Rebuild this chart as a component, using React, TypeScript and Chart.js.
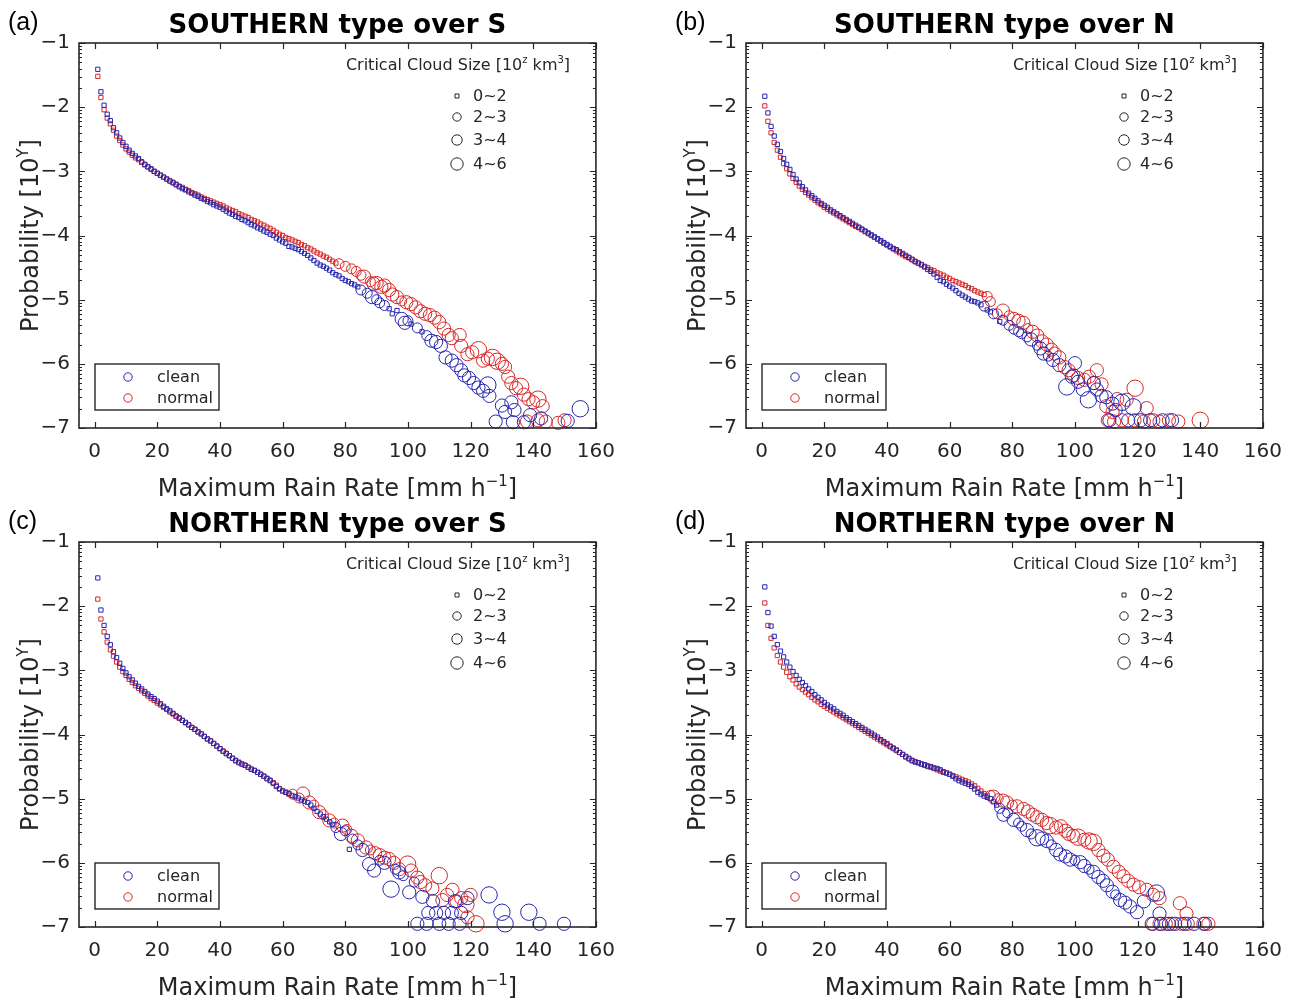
import React, { useEffect, useRef } from 'react';
import { Chart, registerables } from 'chart.js';
Chart.register(...registerables);

// ---------------- axes / labels ----------------
const xTickValues = [0, 20, 40, 60, 80, 100, 120, 140, 160];
const yTickValues = [-7, -6, -5, -4, -3, -2, -1];
const sizeClassLabels = ['0~2', '2~3', '3~4', '4~6'];
const panelLetters = ['(a)', '(b)', '(c)', '(d)'];
const panelTitles = ['SOUTHERN type over S', 'SOUTHERN type over N', 'NORTHERN type over S', 'NORTHERN type over N'];
const seriesNames = ['clean', 'normal'];

// ---------------- data ----------------
// "Sq" arrays: log10 probability at rain rate x = 1, 2, 3, ... (size class 0~2, squares)
// "Tail" arrays: [rain rate, log10 probability, size class 1..4]
const aCleanSq = [-1.41, -1.76, -1.97, -2.11, -2.21, -2.32, -2.40, -2.48, -2.55, -2.61, -2.67, -2.72, -2.76, -2.80, -2.85, -2.89, -2.93, -2.96, -3.00, -3.03, -3.06, -3.09, -3.12, -3.15, -3.18, -3.21, -3.24, -3.27, -3.29, -3.32, -3.34, -3.37, -3.39, -3.42, -3.44, -3.47, -3.49, -3.52, -3.54, -3.56, -3.59, -3.62, -3.65, -3.67, -3.70, -3.72, -3.75, -3.77, -3.80, -3.83, -3.85, -3.88, -3.90, -3.93, -3.95, -3.98, -4.00, -4.04, -4.07, -4.10, -4.12, -4.17, -4.18, -4.20, -4.22, -4.25, -4.28, -4.31, -4.35, -4.39, -4.43, -4.46, -4.48, -4.51, -4.54, -4.58, -4.61, -4.63, -4.67, -4.70, -4.72, -4.75, -4.77, -4.80];
const aCleanTail = [[85, -4.85, 2], [87, -4.9, 2], [88.5, -4.96, 3], [90, -5.0, 2], [91, -5.05, 2], [92.5, -5.09, 2], [94, -5.14, 1], [95, -5.22, 1], [96.5, -5.17, 1], [98, -5.3, 3], [99, -5.36, 3], [100, -5.33, 2], [101, -5.38, 1], [103, -5.44, 2], [104.5, -5.5, 1], [106, -5.56, 2], [107.5, -5.64, 3], [109, -5.66, 3], [110.5, -5.72, 3], [112, -5.9, 3], [114, -5.95, 3], [115.5, -6.02, 3], [117, -6.1, 3], [118, -6.18, 3], [119.5, -6.22, 3], [121, -6.3, 3], [122.5, -6.37, 3], [124, -6.42, 3], [125.5, -6.33, 4], [126, -6.5, 3], [128, -6.9, 3], [130, -6.65, 3], [131, -6.75, 3], [133, -6.6, 3], [134, -6.72, 3], [133.5, -6.91, 3], [137, -6.91, 3], [139, -6.8, 3], [142.5, -6.85, 3], [151, -6.89, 3], [155, -6.7, 4]];
const aNormalSq = [-1.52, -1.85, -2.04, -2.17, -2.26, -2.36, -2.45, -2.52, -2.59, -2.65, -2.70, -2.75, -2.79, -2.82, -2.86, -2.90, -2.93, -2.97, -3.00, -3.03, -3.06, -3.09, -3.12, -3.15, -3.17, -3.20, -3.23, -3.25, -3.28, -3.30, -3.33, -3.35, -3.37, -3.40, -3.42, -3.44, -3.46, -3.48, -3.50, -3.52, -3.54, -3.57, -3.59, -3.61, -3.63, -3.66, -3.68, -3.70, -3.72, -3.75, -3.77, -3.79, -3.82, -3.84, -3.87, -3.89, -3.92, -3.95, -3.98, -4.00, -4.03, -4.05, -4.07, -4.09, -4.11, -4.14, -4.16, -4.19, -4.21, -4.24, -4.27, -4.29, -4.32, -4.34, -4.37, -4.40, -4.43];
const aNormalTail = [[78, -4.44, 2], [80, -4.48, 2], [82, -4.52, 2], [83.5, -4.56, 2], [85, -4.62, 2], [86, -4.64, 3], [88, -4.72, 2], [89, -4.75, 3], [90, -4.74, 3], [91.5, -4.8, 3], [92.5, -4.78, 3], [94, -4.85, 3], [95, -4.92, 3], [96.5, -4.96, 3], [98, -5.02, 2], [99.5, -5.04, 3], [101, -5.07, 3], [102.5, -5.12, 3], [104, -5.18, 3], [105.5, -5.22, 3], [107, -5.24, 3], [108.5, -5.28, 3], [110, -5.35, 3], [111.5, -5.45, 3], [113, -5.55, 3], [114, -5.6, 3], [116.5, -5.55, 3], [117, -5.72, 3], [119, -5.85, 3], [120.5, -5.82, 3], [122.5, -5.78, 4], [124, -5.95, 3], [125.5, -5.92, 3], [127, -5.9, 4], [128.5, -5.96, 4], [130, -6.0, 3], [131, -6.05, 3], [132, -6.2, 3], [133, -6.3, 3], [134.5, -6.38, 3], [136, -6.35, 4], [137, -6.48, 3], [138.5, -6.55, 3], [140, -6.6, 3], [141.5, -6.55, 4], [143, -6.66, 3], [138, -6.9, 3], [141.5, -6.88, 3], [144, -6.9, 3], [148, -6.92, 3], [150, -6.88, 3]];

const bCleanSq = [-1.83, -2.09, -2.30, -2.45, -2.58, -2.69, -2.80, -2.89, -2.97, -3.05, -3.12, -3.18, -3.24, -3.29, -3.34, -3.38, -3.42, -3.46, -3.50, -3.53, -3.56, -3.60, -3.63, -3.66, -3.69, -3.72, -3.75, -3.78, -3.81, -3.84, -3.87, -3.90, -3.93, -3.96, -3.99, -4.02, -4.05, -4.08, -4.11, -4.14, -4.17, -4.20, -4.22, -4.25, -4.28, -4.31, -4.34, -4.37, -4.41, -4.43, -4.46, -4.49, -4.53, -4.56, -4.60, -4.65, -4.70, -4.72, -4.76, -4.79, -4.82, -4.86, -4.90, -4.93, -4.96, -4.99, -5.02, -5.03, -5.05, -5.08];
const bCleanTail = [[71, -5.1, 2], [72, -5.16, 1], [73, -5.19, 1], [74, -5.22, 2], [76, -5.34, 1], [77, -5.32, 2], [79, -5.4, 2], [80.5, -5.46, 2], [82, -5.5, 2], [83, -5.53, 2], [84.7, -5.58, 2], [86, -5.62, 3], [88, -5.71, 2], [89, -5.76, 3], [90, -5.84, 3], [91.5, -5.88, 2], [93, -5.94, 3], [95, -6.02, 3], [97.4, -6.36, 4], [99, -6.2, 3], [100, -5.99, 3], [101, -6.28, 3], [102.5, -6.4, 3], [104.3, -6.56, 4], [106, -6.3, 3], [107, -6.4, 3], [108.5, -6.5, 3], [110, -6.52, 3], [112, -6.62, 3], [113, -6.72, 3], [115, -6.6, 4], [118.6, -6.67, 4], [111, -6.88, 3], [117, -6.88, 3], [121, -6.88, 3], [124, -6.88, 3], [128, -6.88, 3], [131, -6.88, 3]];
const bNormalSq = [-1.98, -2.22, -2.40, -2.55, -2.67, -2.78, -2.88, -2.96, -3.04, -3.11, -3.17, -3.23, -3.28, -3.33, -3.37, -3.41, -3.45, -3.49, -3.52, -3.56, -3.59, -3.62, -3.65, -3.68, -3.71, -3.74, -3.77, -3.80, -3.83, -3.86, -3.88, -3.91, -3.94, -3.97, -4.00, -4.03, -4.06, -4.09, -4.12, -4.15, -4.18, -4.21, -4.24, -4.27, -4.30, -4.33, -4.35, -4.38, -4.40, -4.43, -4.45, -4.48, -4.50, -4.53, -4.55, -4.58, -4.60, -4.62, -4.65, -4.67, -4.70, -4.72, -4.74, -4.76, -4.78, -4.81, -4.83, -4.86, -4.88, -4.90, -4.92];
const bNormalTail = [[72, -4.95, 2], [73, -5.03, 2], [75.2, -5.22, 2], [77, -5.17, 3], [79, -5.25, 2], [80.5, -5.3, 3], [82, -5.33, 3], [83.5, -5.36, 3], [85, -5.45, 2], [86.5, -5.5, 3], [88, -5.56, 3], [89.5, -5.65, 3], [91, -5.7, 3], [92.5, -5.78, 3], [93.5, -5.84, 3], [95, -5.9, 3], [96.7, -6.05, 3], [98, -6.1, 3], [99.5, -6.18, 3], [101, -6.22, 3], [103, -6.25, 3], [104.5, -6.2, 3], [106, -6.3, 3], [107, -6.1, 3], [108.5, -6.32, 3], [110, -6.66, 3], [112, -6.75, 3], [113.5, -6.55, 3], [116.5, -6.56, 3], [119.2, -6.38, 4], [122.9, -6.69, 3], [110.5, -6.88, 3], [112.5, -6.9, 3], [115, -6.88, 3], [119, -6.88, 3], [122, -6.9, 3], [125, -6.88, 3], [127, -6.9, 3], [130, -6.88, 3], [133, -6.9, 3], [140, -6.88, 4]];

const cCleanSq = [-1.56, -2.06, -2.30, -2.47, -2.60, -2.71, -2.80, -2.89, -2.97, -3.04, -3.10, -3.15, -3.20, -3.25, -3.29, -3.33, -3.37, -3.41, -3.44, -3.48, -3.52, -3.56, -3.60, -3.63, -3.67, -3.71, -3.74, -3.78, -3.81, -3.85, -3.89, -3.92, -3.96, -3.99, -4.03, -4.07, -4.10, -4.14, -4.18, -4.22, -4.26, -4.30, -4.33, -4.37, -4.41, -4.44, -4.46, -4.48, -4.51, -4.54, -4.56, -4.59, -4.62, -4.65, -4.69, -4.72, -4.76, -4.81, -4.85, -4.88, -4.90, -4.92, -4.95, -4.97, -4.99, -5.02, -5.04, -5.06, -5.10, -5.15, -5.20, -5.24, -5.28, -5.32, -5.36, -5.40];
const cCleanTail = [[77, -5.45, 2], [78.6, -5.55, 3], [80, -5.5, 2], [81.3, -5.79, 1], [82.3, -5.63, 2], [84, -5.72, 2], [85.5, -5.8, 3], [87.6, -6.02, 3], [89.2, -6.12, 3], [91, -5.96, 2], [92.5, -6.0, 3], [94.6, -6.41, 4], [96, -6.1, 2], [97.2, -6.15, 3], [98.5, -6.2, 2], [100.4, -6.46, 3], [102, -6.3, 2], [103, -6.95, 3], [104.6, -6.53, 3], [106, -6.95, 3], [106.5, -6.78, 3], [108, -6.6, 3], [109, -6.78, 3], [110, -6.95, 3], [111.5, -6.78, 3], [113, -6.95, 3], [114, -6.78, 3], [115, -6.6, 3], [116.5, -6.95, 3], [117, -6.78, 3], [119, -6.55, 3], [125.9, -6.5, 4], [130, -6.77, 4], [131, -6.95, 4], [138.6, -6.77, 4], [142, -6.95, 3], [149.8, -6.95, 3]];
const cNormalSq = [-1.89, -2.20, -2.40, -2.56, -2.68, -2.78, -2.87, -2.95, -3.02, -3.08, -3.14, -3.19, -3.24, -3.28, -3.32, -3.36, -3.40, -3.44, -3.47, -3.51, -3.54, -3.58, -3.61, -3.65, -3.68, -3.72, -3.75, -3.78, -3.82, -3.85, -3.89, -3.92, -3.96, -3.99, -4.03, -4.07, -4.10, -4.14, -4.18, -4.22, -4.26, -4.29, -4.33, -4.37, -4.40, -4.43, -4.46, -4.48, -4.51, -4.54, -4.56, -4.59, -4.62, -4.65, -4.68, -4.71, -4.75, -4.79, -4.84, -4.88, -4.90, -4.93];
const cNormalTail = [[63.2, -4.93, 2], [65.3, -4.99, 2], [66.5, -4.92, 3], [68.5, -5.06, 3], [70, -5.1, 2], [71.7, -5.21, 3], [73, -5.25, 2], [74.9, -5.34, 3], [76.5, -5.38, 2], [79.1, -5.42, 3], [80.5, -5.48, 2], [82, -5.58, 3], [84, -5.65, 3], [86.6, -5.76, 3], [88, -5.8, 2], [89.5, -5.85, 3], [91, -5.88, 3], [92.5, -5.92, 3], [94, -5.94, 3], [95.5, -6.0, 3], [97.2, -6.1, 3], [99.9, -6.02, 4], [101, -6.12, 3], [103, -6.23, 3], [104, -6.3, 3], [105.5, -6.35, 3], [107.8, -6.4, 3], [110, -6.2, 4], [111, -6.58, 3], [112.5, -6.5, 3], [114.2, -6.42, 3], [115.5, -6.6, 3], [117, -6.55, 3], [118.5, -6.65, 4], [120, -6.5, 3], [121.7, -6.95, 4], [119, -6.85, 3]];

const dCleanSq = [-1.70, -2.10, -2.31, -2.47, -2.60, -2.70, -2.79, -2.87, -2.95, -3.02, -3.08, -3.14, -3.19, -3.24, -3.29, -3.33, -3.38, -3.42, -3.46, -3.50, -3.54, -3.57, -3.60, -3.64, -3.67, -3.70, -3.74, -3.77, -3.80, -3.83, -3.86, -3.89, -3.92, -3.95, -3.98, -4.01, -4.04, -4.08, -4.11, -4.14, -4.18, -4.21, -4.24, -4.28, -4.31, -4.35, -4.38, -4.41, -4.43, -4.44, -4.46, -4.47, -4.49, -4.50, -4.52, -4.53, -4.55, -4.58, -4.60, -4.62, -4.65, -4.69, -4.72, -4.74, -4.76, -4.78, -4.81, -4.85, -4.90, -4.93, -4.96, -4.98, -5.00, -5.05, -5.10];
const dCleanTail = [[76, -5.15, 2], [77.2, -5.25, 3], [78.5, -5.22, 2], [80.4, -5.33, 3], [82, -5.38, 2], [83, -5.43, 2], [84.7, -5.49, 3], [86, -5.55, 2], [87.9, -5.61, 4], [89.5, -5.62, 3], [91, -5.66, 3], [92.5, -5.72, 2], [94, -5.8, 3], [95.3, -5.87, 3], [97, -5.9, 3], [98.5, -5.95, 3], [100, -5.96, 2], [101.7, -5.99, 3], [103, -6.05, 3], [104.5, -6.1, 2], [105.9, -6.14, 3], [107.5, -6.22, 3], [109, -6.28, 3], [110.2, -6.35, 3], [112, -6.45, 3], [113, -6.5, 2], [114.4, -6.58, 3], [116, -6.62, 3], [117.6, -6.68, 3], [119.8, -6.77, 3], [122, -6.6, 3], [126, -6.47, 4], [127, -6.79, 3], [124.5, -6.95, 3], [127.5, -6.95, 3], [130, -6.95, 3], [132, -6.95, 3], [135, -6.95, 3], [138, -6.95, 3], [141.5, -6.95, 3]];
const dNormalSq = [-1.95, -2.30, -2.50, -2.65, -2.77, -2.87, -2.95, -3.03, -3.10, -3.15, -3.21, -3.26, -3.30, -3.34, -3.38, -3.42, -3.46, -3.49, -3.53, -3.56, -3.59, -3.62, -3.65, -3.68, -3.71, -3.74, -3.77, -3.80, -3.83, -3.86, -3.89, -3.92, -3.95, -3.98, -4.01, -4.04, -4.07, -4.10, -4.13, -4.16, -4.19, -4.22, -4.25, -4.28, -4.31, -4.34, -4.37, -4.40, -4.42, -4.44, -4.46, -4.48, -4.50, -4.51, -4.53, -4.55, -4.57, -4.59, -4.60, -4.62, -4.64, -4.66, -4.68, -4.70, -4.72, -4.74, -4.77, -4.80, -4.84, -4.88, -4.92, -4.95];
const dNormalTail = [[73, -4.95, 2], [74, -4.97, 3], [75.5, -5.0, 2], [77, -5.03, 3], [78.3, -5.06, 3], [80, -5.1, 2], [81.5, -5.12, 3], [83.6, -5.16, 3], [85, -5.2, 3], [86.5, -5.25, 3], [87.9, -5.29, 3], [89.5, -5.33, 3], [91, -5.38, 3], [92.1, -5.42, 4], [94, -5.45, 3], [95.5, -5.43, 3], [97, -5.5, 3], [98, -5.55, 3], [99.5, -5.58, 3], [101, -5.6, 4], [103, -5.64, 3], [104.5, -5.66, 4], [105.9, -5.68, 4], [107.5, -5.8, 3], [109.1, -5.89, 3], [110.5, -5.95, 3], [112.3, -6.06, 3], [114, -6.14, 3], [115.5, -6.21, 3], [117, -6.28, 3], [118.7, -6.34, 3], [120.5, -6.38, 3], [122.9, -6.42, 3], [125, -6.5, 3], [127, -6.55, 3], [133.5, -6.63, 3], [135.6, -6.79, 3], [125, -6.95, 3], [127, -6.95, 3], [129, -6.95, 3], [131, -6.95, 3], [134, -6.95, 3], [136, -6.95, 3], [141, -6.95, 3], [142.6, -6.95, 3]];

const panelSeries = [
  [[aCleanSq, aCleanTail], [aNormalSq, aNormalTail]],
  [[bCleanSq, bCleanTail], [bNormalSq, bNormalTail]],
  [[cCleanSq, cCleanTail], [cNormalSq, cNormalTail]],
  [[dCleanSq, dCleanTail], [dNormalSq, dNormalTail]],
];

// ---------------- styles ----------------
const BLUE = 'rgb(38,38,175)';
const RED = 'rgb(215,40,40)';
const INK = '#262626';
const FONT = '"DejaVu Sans", sans-serif';
const markerRadius: Record<number, number> = { 1: 3, 2: 5, 3: 6.6, 4: 8.2 };
const legendRadius = [2, 4.2, 5.2, 6.2];
const panelPos = [
  { left: 0, top: 0 },
  { left: 667, top: 0 },
  { left: 0, top: 499 },
  { left: 667, top: 499 },
];
const CW = 627;
const CH = 500;

type Part = [string, boolean];

function drawRich(ctx: CanvasRenderingContext2D, parts: Part[], x: number, y: number, size: number, weight = 'normal', align: 'left' | 'center' = 'center') {
  const supSize = Math.round(size * 0.64);
  const widths = parts.map(([t, sup]) => {
    ctx.font = `${weight} ${sup ? supSize : size}px ${FONT}`;
    return ctx.measureText(t).width;
  });
  const total = widths.reduce((a, b) => a + b, 0);
  let cx = align === 'center' ? x - total / 2 : x;
  ctx.textAlign = 'left';
  ctx.textBaseline = 'alphabetic';
  parts.forEach(([t, sup], i) => {
    ctx.font = `${weight} ${sup ? supSize : size}px ${FONT}`;
    ctx.fillText(t, cx, sup ? y - size * 0.42 : y);
    cx += widths[i];
  });
}

const decorPlugin = {
  id: 'decor',
  afterDraw(chart: any, _args: any, opts: any) {
    const ctx: CanvasRenderingContext2D = chart.ctx;
    const ca = chart.chartArea;
    const xs = chart.scales.x;
    const ys = chart.scales.y;
    const p = opts.panel as number;
    ctx.save();
    // axis box
    ctx.strokeStyle = INK;
    ctx.lineWidth = 1.6;
    ctx.strokeRect(ca.left, ca.top, ca.right - ca.left, ca.bottom - ca.top);
    // major ticks
    ctx.lineWidth = 1.2;
    ctx.beginPath();
    xTickValues.forEach((v) => {
      const px = Math.round(xs.getPixelForValue(v)) + 0.5;
      ctx.moveTo(px, ca.bottom); ctx.lineTo(px, ca.bottom - 6);
      ctx.moveTo(px, ca.top); ctx.lineTo(px, ca.top + 6);
    });
    yTickValues.forEach((v) => {
      const py = Math.round(ys.getPixelForValue(v)) + 0.5;
      ctx.moveTo(ca.left, py); ctx.lineTo(ca.left + 6, py);
      ctx.moveTo(ca.right, py); ctx.lineTo(ca.right - 6, py);
    });
    ctx.stroke();
    // minor (log) ticks on y
    ctx.lineWidth = 1;
    ctx.beginPath();
    for (let n = 2; n <= 7; n++) {
      for (let m = 2; m <= 9; m++) {
        const v = -n + Math.log10(m);
        const py = Math.round(ys.getPixelForValue(v)) + 0.5;
        ctx.moveTo(ca.left, py); ctx.lineTo(ca.left + 3, py);
        ctx.moveTo(ca.right, py); ctx.lineTo(ca.right - 3, py);
      }
    }
    ctx.stroke();

    // panel letter
    ctx.fillStyle = '#000';
    ctx.font = `25px "Liberation Sans", Arial, sans-serif`;
    ctx.textAlign = 'left';
    ctx.textBaseline = 'alphabetic';
    ctx.fillText(panelLetters[p], 8, 30);
    // title
    const cx = (ca.left + ca.right) / 2;
    ctx.fillStyle = '#000';
    drawRich(ctx, [[panelTitles[p], false]], cx, 33, 26, 'bold');
    // x title
    ctx.fillStyle = INK;
    drawRich(ctx, [['Maximum Rain Rate [mm h', false], ['\u22121', true], [']', false]], cx, 496, 24);
    // y title
    ctx.save();
    ctx.translate(38, (ca.top + ca.bottom) / 2);
    ctx.rotate(-Math.PI / 2);
    drawRich(ctx, [['Probability [10', false], ['Y', true], [']', false]], 0, 0, 24);
    ctx.restore();

    // size legend
    ctx.fillStyle = INK;
    drawRich(ctx, [['Critical Cloud Size [10', false], ['z', true], [' km', false], ['3', true], [']', false]], ca.left + 379, 70, 16);
    const rowY = [96, 117, 140, 164];
    ctx.strokeStyle = INK;
    ctx.lineWidth = 1;
    sizeClassLabels.forEach((lab, i) => {
      const mx = ca.left + 378;
      const my = rowY[i];
      ctx.beginPath();
      if (i === 0) {
        ctx.rect(mx - 2, my - 2, 4, 4);
      } else {
        ctx.arc(mx, my, legendRadius[i], 0, Math.PI * 2);
      }
      ctx.stroke();
      ctx.font = `16px ${FONT}`;
      ctx.textAlign = 'left';
      ctx.textBaseline = 'middle';
      ctx.fillStyle = INK;
      ctx.fillText(lab, ca.left + 394, my + 1);
    });

    // series legend box
    const bx = ca.left + 16, by = 364, bw = 124, bh = 46;
    ctx.fillStyle = '#fff';
    ctx.fillRect(bx, by, bw, bh);
    ctx.strokeStyle = INK;
    ctx.lineWidth = 1.4;
    ctx.strokeRect(bx, by, bw, bh);
    [BLUE, RED].forEach((col, i) => {
      const my = by + 13 + i * 21;
      ctx.strokeStyle = col;
      ctx.lineWidth = 1;
      ctx.beginPath();
      ctx.arc(bx + 33, my, 4.2, 0, Math.PI * 2);
      ctx.stroke();
      ctx.fillStyle = INK;
      ctx.font = `16px ${FONT}`;
      ctx.textAlign = 'left';
      ctx.textBaseline = 'middle';
      ctx.fillText(seriesNames[i], bx + 62, my + 1);
    });
    ctx.restore();
  },
};

function buildPoints(sq: number[], tail: number[][]) {
  const pts = sq.map((y, i) => ({ x: i + 1, y, s: 1 }));
  tail.forEach(([x, y, s]) => pts.push({ x, y, s }));
  return pts;
}

function Panel({ index }: { index: number }) {
  const ref = useRef<HTMLCanvasElement | null>(null);
  useEffect(() => {
    if (!ref.current) return;
    const series = panelSeries[index];
    const chart = new Chart(ref.current, {
      type: 'scatter',
      data: {
        datasets: series.map(([sq, tail], si) => ({
          label: seriesNames[si],
          data: buildPoints(sq as number[], tail as number[][]),
          borderColor: si === 0 ? BLUE : RED,
          backgroundColor: 'rgba(0,0,0,0)',
          borderWidth: 1,
          clip: false as any,
          pointStyle: (c: any) => (c.raw && c.raw.s === 1 ? 'rect' : 'circle'),
          pointRadius: (c: any) => (c.raw ? markerRadius[c.raw.s] : 3),
          pointHoverRadius: (c: any) => (c.raw ? markerRadius[c.raw.s] : 3),
        })),
      },
      options: {
        animation: false,
        responsive: false,
        events: [],
        layout: { padding: { left: 0, top: 43, right: CW - 597, bottom: 0 } },
        plugins: {
          legend: { display: false },
          tooltip: { enabled: false },
          title: { display: false },
          decor: { panel: index },
        } as any,
        scales: {
          x: {
            type: 'linear',
            min: -5,
            max: 160,
            afterBuildTicks: (s: any) => { s.ticks = xTickValues.map((v) => ({ value: v })); },
            afterFit: (s: any) => { s.height = 72; },
            grid: { display: false, drawTicks: false },
            border: { display: false },
            ticks: {
              padding: 12,
              color: INK,
              font: { family: FONT, size: 20 },
              maxRotation: 0,
              autoSkip: false,
              callback: (v: any) => String(v),
            },
          },
          y: {
            type: 'linear',
            min: -7,
            max: -1,
            afterBuildTicks: (s: any) => { s.ticks = yTickValues.map((v) => ({ value: v })); },
            afterFit: (s: any) => { s.width = 79; },
            grid: { display: false, drawTicks: false },
            border: { display: false },
            ticks: {
              padding: 9,
              color: INK,
              font: { family: FONT, size: 20 },
              autoSkip: false,
              callback: (v: any) => (v < 0 ? '\u2212' + Math.abs(v) : String(v)),
            },
          },
        },
      },
      plugins: [decorPlugin as any],
    });
    return () => chart.destroy();
  }, [index]);
  const pos = panelPos[index];
  return (
    <canvas
      ref={ref}
      width={CW}
      height={CH}
      style={{ position: 'absolute', left: pos.left, top: pos.top, width: CW, height: CH }}
    />
  );
}

export default function App() {
  return (
    <div style={{ position: 'absolute', left: 0, top: 0, width: 1294, height: 1002, background: '#fff', overflow: 'hidden' }}>
      {[0, 1, 2, 3].map((i) => (
        <Panel key={i} index={i} />
      ))}
    </div>
  );
}
